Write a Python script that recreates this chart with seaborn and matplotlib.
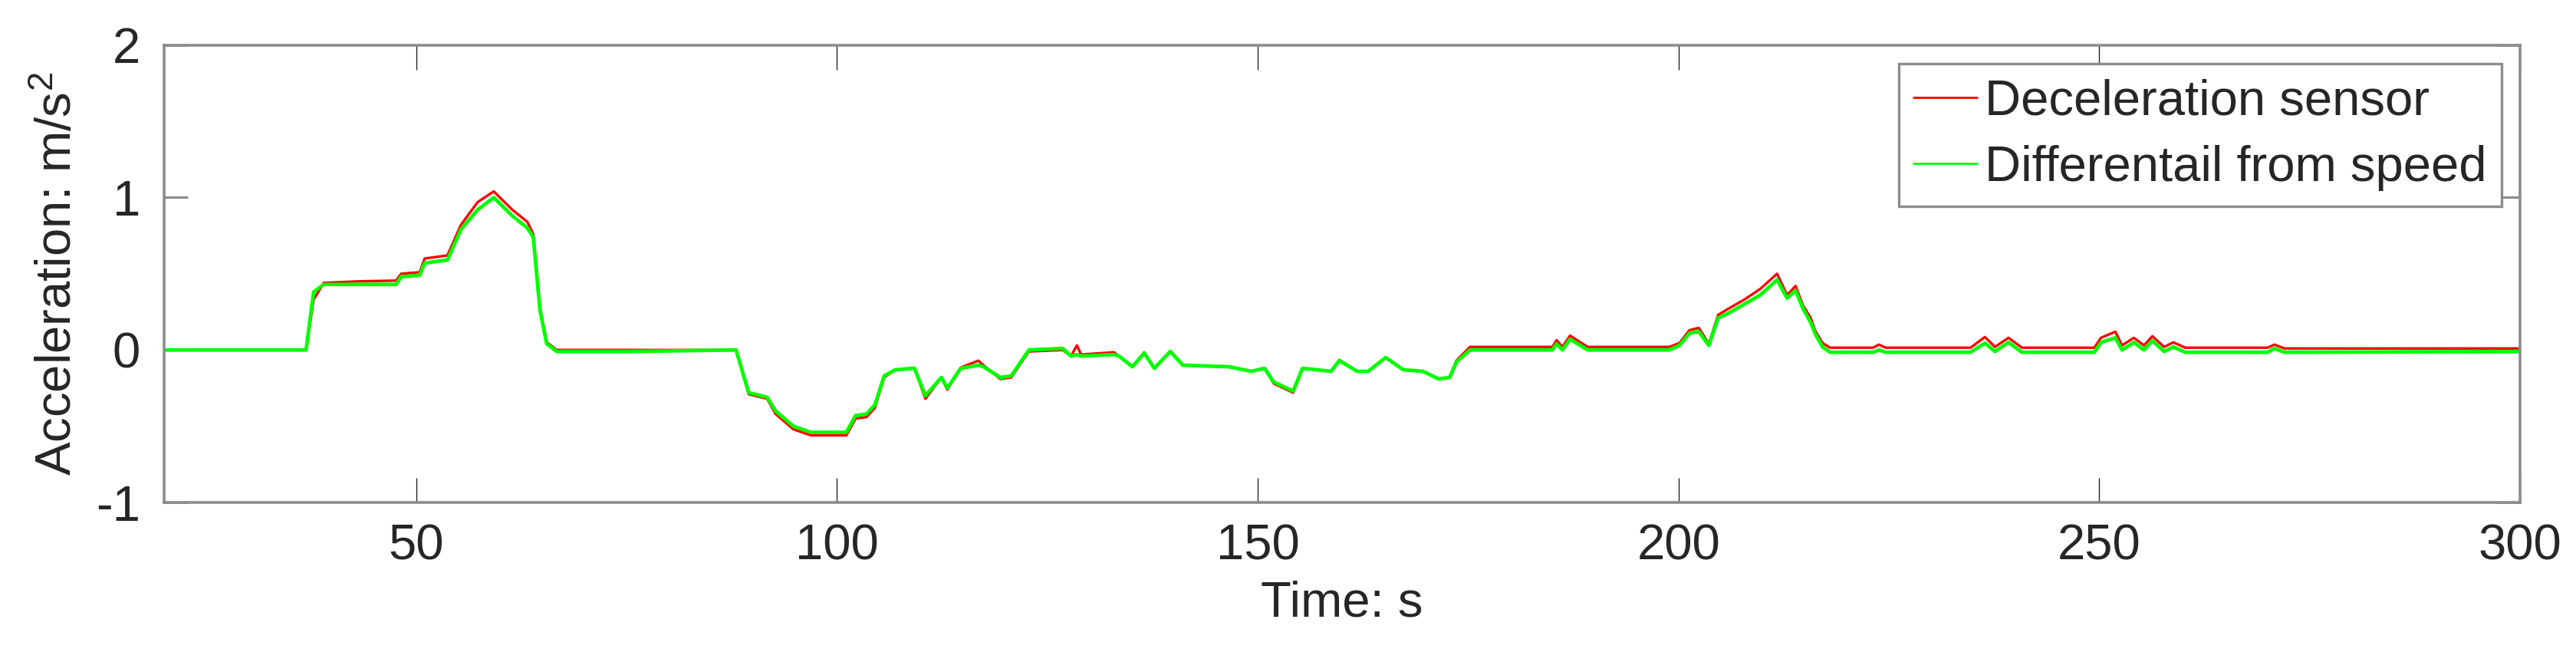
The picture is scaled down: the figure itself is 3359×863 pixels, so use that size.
import numpy as np
import pandas as pd
import seaborn as sns
import matplotlib
matplotlib.use('Agg')
import matplotlib.pyplot as plt

# 读取曲线上的关键点
time_s = [20, 36.9, 37.8, 39.0, 43.0, 47.6, 48.2, 50.4, 51.0, 53.7, 55.3, 57.3, 59.2, 61.4, 63.2, 63.9,
          64.7, 65.5, 66.7, 75.0, 88.0, 89.5, 91.7, 92.7, 94.8, 96.9, 101.1, 102.2, 103.5, 104.5,
          105.6, 106.9, 109.2, 110.5, 112.4, 113.1, 114.7, 116.8, 117.4, 119.4, 120.7, 122.8, 126.8,
          127.8, 128.5, 129.0, 132.9, 133.5, 135.1, 136.5, 137.7, 139.6, 141.1, 146.6, 149.2, 150.8,
          151.9, 154.2, 155.3, 158.7, 159.7, 161.8, 163.1, 165.2, 167.3, 169.6, 171.5, 172.8, 173.6,
          175.2, 185.0, 185.5, 186.2, 187.1, 189.2, 198.9, 200.1, 201.3, 202.4, 203.6, 204.7, 205.9,
          207.8, 209.7, 211.7, 212.9, 213.9, 214.8, 215.7, 216.2, 217.1, 218.0, 223.1, 223.8, 224.6,
          234.7, 236.4, 237.6, 239.2, 240.8, 249.4, 250.2, 251.9, 252.7, 254.1, 255.3, 256.3, 257.7,
          258.8, 260.2, 270.0, 270.8, 272.0, 300]

# 减速度传感器
sensor_acc = [0.0, 0.0, 0.33, 0.44, 0.45, 0.455, 0.50, 0.51, 0.60, 0.62, 0.82, 0.97, 1.04, 0.92, 0.84, 0.76,
              0.28, 0.05, 0.0, 0.0, 0.0, -0.29, -0.32, -0.42, -0.52, -0.56, -0.56, -0.45, -0.44, -0.38,
              -0.18, -0.13, -0.12, -0.32, -0.18, -0.26, -0.115, -0.07, -0.10, -0.19, -0.18, -0.01, 0.0,
              -0.04, 0.03, -0.03, -0.015, -0.04, -0.11, -0.015, -0.12, -0.007, -0.10, -0.11, -0.14, -0.12,
              -0.22, -0.28, -0.12, -0.14, -0.065, -0.14, -0.14, -0.048, -0.13, -0.14, -0.19, -0.18, -0.07,
              0.02, 0.02, 0.064, 0.02, 0.094, 0.02, 0.02, 0.045, 0.13, 0.145, 0.04, 0.23, 0.27,
              0.33, 0.40, 0.50, 0.36, 0.42, 0.29, 0.21, 0.13, 0.045, 0.015, 0.015, 0.035, 0.015,
              0.015, 0.085, 0.02, 0.08, 0.015, 0.015, 0.08, 0.12, 0.03, 0.08, 0.03, 0.09, 0.02,
              0.05, 0.015, 0.015, 0.035, 0.01, 0.01]

# 速度微分
speed_diff_acc = [0.0, 0.0, 0.38, 0.43, 0.43, 0.43, 0.48, 0.49, 0.57, 0.59, 0.79, 0.92, 1.00, 0.88, 0.80, 0.74,
                  0.26, 0.04, -0.01, -0.01, 0.0, -0.28, -0.31, -0.40, -0.50, -0.54, -0.54, -0.43, -0.42, -0.36,
                  -0.17, -0.13, -0.12, -0.30, -0.18, -0.25, -0.12, -0.10, -0.11, -0.18, -0.17, 0.0, 0.01,
                  -0.04, -0.03, -0.04, -0.03, -0.04, -0.11, -0.02, -0.12, -0.01, -0.10, -0.11, -0.14, -0.12,
                  -0.21, -0.27, -0.12, -0.14, -0.07, -0.14, -0.14, -0.05, -0.13, -0.14, -0.19, -0.18, -0.08,
                  0.0, 0.0, 0.04, 0.0, 0.07, 0.0, 0.0, 0.03, 0.11, 0.12, 0.03, 0.21, 0.24,
                  0.30, 0.36, 0.46, 0.34, 0.39, 0.27, 0.18, 0.11, 0.02, -0.015, -0.015, 0.0, -0.015,
                  -0.015, 0.045, -0.01, 0.05, -0.015, -0.015, 0.05, 0.08, 0.0, 0.05, 0.0, 0.06, -0.01,
                  0.02, -0.015, -0.015, 0.01, -0.015, -0.01]

x_ticks = [50, 100, 150, 200, 250, 300]
y_ticks = [-1, 0, 1, 2]

sns.set_theme(style='white')
plt.rcParams['font.family'] = ['Liberation Sans', 'DejaVu Sans']
plt.rcParams['mathtext.fontset'] = 'custom'
plt.rcParams['mathtext.rm'] = 'Liberation Sans'
plt.rcParams['mathtext.it'] = 'Liberation Sans'

df = pd.DataFrame({'time': time_s, 'sensor': sensor_acc, 'diff': speed_diff_acc})

fig = plt.figure(figsize=(33.59, 8.63), dpi=100)
ax = fig.add_axes([0.0636, 0.241, 0.9147, 0.691])

sns.lineplot(data=df, x='time', y='sensor', color='#ff0000', linewidth=2.4,
             label='Deceleration sensor', ax=ax, sort=False, estimator=None)
sns.lineplot(data=df, x='time', y='diff', color='#00ff00', linewidth=3.4,
             label='Differentail from speed', ax=ax, sort=False, estimator=None)

ax.set_xlim(20, 300)
ax.set_ylim(-1, 2)
ax.set_xticks(x_ticks)
ax.set_yticks(y_ticks)
ax.set_xticklabels([str(v) for v in x_ticks])
ax.set_yticklabels([str(v) for v in y_ticks])

ax.set_xlabel('Time: s', fontsize=47, color='#262626', labelpad=10)
ax.set_ylabel('Acceleration: m/s$^2$', fontsize=47, color='#262626', labelpad=14)

for sp in ax.spines.values():
    sp.set_visible(True)
    sp.set_color('#8c8c8c')
    sp.set_linewidth(2.6)

ax.tick_params(axis='x', direction='in', length=23, width=1.0, color='#262626',
               labelsize=47, labelcolor='#262626', pad=20, top=True, bottom=True)
ax.tick_params(axis='y', direction='in', length=22, width=2.2, color='#8c8c8c',
               labelsize=47, labelcolor='#262626', pad=22, left=True, right=True)

leg = ax.legend(loc='upper right', fontsize=47, frameon=True, fancybox=False, framealpha=1,
                edgecolor='#8c8c8c', handlelength=1.27, handletextpad=0.15, labelspacing=0.41,
                borderpad=0.3, borderaxespad=0.37)
leg.get_frame().set_linewidth(2.4)
for line in leg.get_lines():
    line.set_linewidth(2.0)

plt.savefig('out.png', dpi=100)
